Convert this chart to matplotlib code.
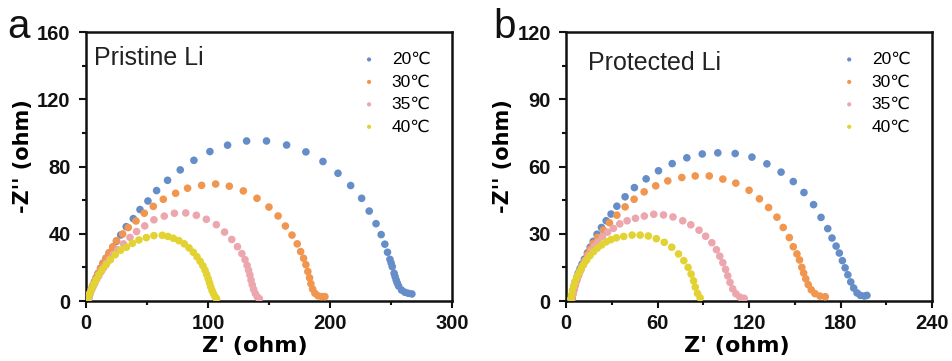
import matplotlib
matplotlib.use("Agg")
import matplotlib.pyplot as plt
from matplotlib.ticker import MultipleLocator

plt.rcParams["font.family"] = ["Liberation Sans", "DejaVu Sans"]

# Nyquist points, Z' (ohm) / -Z'' (ohm)
temps = ["20℃", "30℃", "35℃", "40℃"]
colors = ["#658dc8", "#f0964f", "#eca6ad", "#e2d232"]

# ---- Pristine Li ----
pristine_20_x = [1.5, 2, 2.5, 3.5, 4.5, 5.5, 7, 8.5, 10, 12, 14, 16.5, 19, 22, 25, 28.5,
                 33, 38.8, 44.3, 50.8, 57.9, 66.9, 77.3, 88.5, 101.6, 116.1, 131.7, 148,
                 164.5, 180.3, 194.3, 206.6, 217, 226, 232.2, 237.8, 242, 245, 247.2,
                 249.2, 250.2, 251.1, 252.6, 253.4, 254.3, 255.2, 256.3, 258.7, 261.5,
                 264.2, 267.2]
pristine_20_y = [0.5, 1.5, 3, 5, 7, 9, 11.5, 14, 16.5, 19.5, 22.5, 25.5, 28.5, 32, 35.5, 39.3,
                 44.2, 49, 54.4, 59.5, 65.7, 71.8, 78, 83.7, 88.9, 92.7, 95.2, 95.2,
                 92.8, 88.7, 83, 76, 68.7, 61.1, 53.5, 46, 39.5, 33.8, 29,
                 24.8, 22.6, 20.4, 16.5, 14.5, 12.5, 10.7, 8.9, 6.5, 5.2,
                 4.6, 4.2]

pristine_30_x = [1.5, 2, 2.5, 3.5, 4.5, 5.5, 7, 8.5, 10, 12, 14, 16.5, 19, 22, 25.1, 30.1,
                 34.7, 41, 47.8, 55.2, 63.4, 73.5, 83.3, 94.8, 106.3, 117.5, 129, 140.2,
                 150, 157.5, 163.5, 168.9, 173.2, 176, 178.4, 180.3, 181.9, 183.3, 184.4,
                 185.8, 187.7, 190.2, 193.2, 195.9]
pristine_30_y = [0.5, 1.5, 3, 5, 7, 9, 11.5, 14, 16.5, 19.5, 22.5, 25.5, 28.8, 32.2, 35.9, 39.9,
                 43.7, 47.6, 52.2, 56.3, 60.5, 64.1, 67.1, 68.8, 69.6, 68.3, 65.5, 61.1,
                 55.9, 50.6, 44.6, 39.2, 34, 29.4, 25.4, 21.6, 17.5, 13.8, 10.3,
                 7.1, 4.6, 3.1, 2.6, 2.6]

pristine_35_x = [1.5, 2, 2.5, 3.5, 4.5, 5.8, 7.2, 8.8, 10.5, 12.5, 14.5, 17, 19.5, 22.5, 26,
                 30.8, 36.1, 41.5, 48.2, 55.7, 64.2, 72.5, 81.8, 90.5, 98.7, 106.9, 113.6,
                 119.5, 124.2, 127.8, 130.4, 132.1, 133.3, 134.4, 135.3, 136.3, 137.4,
                 138.8, 140.4, 142.1]
pristine_35_y = [0.4, 1.2, 2.5, 4.5, 6.5, 8.5, 10.5, 12.8, 15, 17.5, 19.8, 22.5, 25, 27.8, 30.5,
                 34, 37.8, 41.3, 44.7, 48.3, 50.5, 52.2, 52.4, 51, 48.6, 45.4, 41,
                 36.6, 32.3, 28.2, 24.6, 21.2, 18.3, 15.5, 12.5, 9.7, 7,
                 4.5, 2.5, 1.4]

pristine_40_x = [1.3, 2, 3.2, 4.6, 6.3, 8.3, 10.6, 13.3, 16.5, 20, 24, 28.4, 33.1, 38, 43.4,
                 49.5, 55.7, 62.6, 67.2, 71.7, 76.2, 80.6, 84.5, 88, 91, 93.6, 95.8, 97.6,
                 99, 100.2, 101.3, 102.3, 103.4, 104.6, 105.8, 107]
pristine_40_y = [0.9, 2.4, 4.5, 7, 9.8, 12.6, 15.6, 18.6, 21.6, 24.5, 27.5, 30.2, 32, 34.3, 36.3,
                 37.7, 38.9, 39.1, 38.4, 37.3, 35.9, 34, 31.6, 29, 26.3, 23.6, 21, 18.4,
                 15.8, 13.3, 10.8, 8.4, 6.2, 4.2, 2.6, 1.4]

# ---- Protected Li ----
protected_20_x = [3.5, 4, 4.5, 5.2, 6, 7, 8, 9.2, 10.5, 12, 14, 15.8, 17.8, 20.3, 23.2, 26.3,
                  29.5, 33.3, 38.7, 44.8, 52.5, 60.6, 69.6, 79.2, 89.3, 99.5, 110.9, 121.9,
                  131.7, 141, 149, 156, 162.3, 167.2, 171.6, 174.4, 177.1, 179.2, 181.2,
                  183, 184.8, 186.7, 188.6, 190.8, 193, 195.6, 197.3]
protected_20_y = [1, 2.5, 4.5, 6.5, 8.5, 10.5, 12.5, 14.5, 16.5, 18.7, 21.5, 24, 26.6, 29.8, 32.8, 35.8,
                  38.8, 42.3, 46.5, 50.6, 54.5, 58.1, 61.3, 63.9, 65.6, 66.1, 65.8, 64.2,
                  61.2, 57.5, 53.3, 48.4, 43, 37.3, 32.3, 28.1, 24.5, 21.4, 18,
                  14.8, 11.7, 8.5, 5.8, 3.6, 2.5, 2.2, 2.5]

protected_30_x = [4, 4.5, 5.2, 6, 7, 8, 9.3, 10.7, 12.3, 14, 15.8, 17.8, 20.6, 24.5, 28.4,
                  33.3, 38.7, 44.6, 51.2, 58.8, 66.7, 75.9, 84.7, 93.9, 102.8, 111.3, 120,
                  126.8, 132.8, 138.3, 142.4, 146.4, 149, 151.4, 153.1, 154.6, 155.8, 157.2,
                  158.8, 160.8, 163.2, 166.5, 170]
protected_30_y = [1, 3, 5, 7, 9.2, 11.3, 13.5, 15.8, 18.2, 20.8, 23.2, 25.7, 28.4, 31.6, 34.9,
                  38.3, 42, 45.4, 48.7, 51.4, 53.6, 55.1, 55.8, 55.8, 54.4, 52.6, 49.4,
                  45.6, 41.7, 37.4, 32.8, 28.3, 24.2, 21, 18.3, 15, 12.5, 9.9,
                  7.3, 5, 3.3, 2.2, 1.9]

protected_35_x = [3.5, 4, 4.7, 5.4, 6.3, 7.3, 8.5, 9.8, 11.2, 12.8, 14.5, 16.4, 18.6, 21, 23.8,
                  27.2, 31, 35.2, 40, 45.5, 51.3, 57.5, 63.9, 70.1, 76.5, 81.8, 87.2, 91.5,
                  95.6, 98.6, 100.8, 102.8, 104.6, 106, 107.5, 109.3, 111.4, 114, 116.8]
protected_35_y = [0.8, 2.2, 4, 6, 8, 10, 12, 14, 16, 18, 20.2, 22.5, 24.6, 26.4, 28.7,
                  30.7, 32.4, 34.4, 35.8, 36.9, 37.9, 38.7, 38.4, 37.5, 35.8, 34, 31.6, 28.9,
                  26, 22.9, 20, 17.1, 14.1, 11.2, 8.3, 5.4, 3.2, 1.7, 1.2]

protected_40_x = [3.1, 3.6, 4.2, 5, 5.9, 7, 8.5, 10, 11.6, 13.5, 15.6, 18, 20.5, 23.3, 26.3,
                  29.5, 33, 37.8, 43.3, 48.6, 53.9, 59.2, 64.4, 69.3, 73.7, 77.2, 80, 82,
                  83.6, 84.7, 86.2, 87.9]
protected_40_y = [1, 2.8, 4.8, 6.8, 8.7, 10.6, 12.6, 14.6, 16.4, 18.3, 20.2, 22, 23.6, 25, 26.4,
                  27.4, 28.2, 28.8, 29.4, 29.4, 29, 27.8, 26.2, 24, 21, 18, 15, 12,
                  9, 6.2, 3.4, 1.4]

panels = [
    dict(letter="a", letter_x=0.008, title="Pristine Li", title_xy=(0.022, 0.903),
         xlab_x=0.462, xmax=300, xstep=100, ymax=160, ystep=40, light_top=False,
         series=[(pristine_20_x, pristine_20_y), (pristine_30_x, pristine_30_y),
                 (pristine_35_x, pristine_35_y), (pristine_40_x, pristine_40_y)]),
    dict(letter="b", letter_x=0.518, title="Protected Li", title_xy=(0.06, 0.885),
         xlab_x=0.467, xmax=240, xstep=60, ymax=120, ystep=30, light_top=True,
         series=[(protected_20_x, protected_20_y), (protected_30_x, protected_30_y),
                 (protected_35_x, protected_35_y), (protected_40_x, protected_40_y)]),
]

fig = plt.figure(figsize=(9.53, 3.61), dpi=100)
ax_left = [0.0902, 0.594]

for p, left in zip(panels, ax_left):
    ax = fig.add_axes([left, 0.1662, 0.384, 0.745])
    for (xs, ys), c, lab in zip(p["series"], colors, temps):
        ax.scatter(xs, ys, s=30, color=c, edgecolors="none", label=lab, zorder=3)

    ax.set_xlim(0, p["xmax"])
    ax.set_ylim(0, p["ymax"])
    ax.xaxis.set_major_locator(MultipleLocator(p["xstep"]))
    ax.xaxis.set_minor_locator(MultipleLocator(p["xstep"] / 2))
    ax.yaxis.set_major_locator(MultipleLocator(p["ystep"]))
    ax.yaxis.set_minor_locator(MultipleLocator(p["ystep"] / 2))
    ax.tick_params(which="both", direction="out", top=False, right=False,
                   width=1.5, colors="#111111")
    ax.tick_params(which="major", length=5, labelsize=14.5)
    ax.tick_params(axis="y", which="major", pad=6)
    ax.tick_params(axis="x", which="major", pad=4)
    ax.tick_params(which="minor", length=3)
    for lbl in ax.get_xticklabels() + ax.get_yticklabels():
        lbl.set_fontweight("bold")
    if p["light_top"]:
        # top label sits under the panel letter, printed lighter
        top = ax.get_yticklabels()[-1]
        top.set_fontweight("normal")
        top.set_fontsize(13)
    for sp in ax.spines.values():
        sp.set_linewidth(1.8)
        sp.set_color("#111111")

    ax.set_xlabel("Z' (ohm)", fontsize=16, fontweight="bold",
                  family=["DejaVu Sans"])
    ax.set_ylabel("-Z'' (ohm)", fontsize=15, fontweight="bold",
                  family=["DejaVu Sans"])
    ax.xaxis.set_label_coords(p["xlab_x"], -0.13)
    ax.yaxis.set_label_coords(-0.145, 0.539)

    ax.text(*p["title_xy"], p["title"], transform=ax.transAxes, fontsize=18,
            color="#222222", va="center", ha="left")
    ax.legend(loc="upper right", bbox_to_anchor=(0.97, 0.965), frameon=False,
              fontsize=12.5, markerscale=0.55, handletextpad=0.5, handlelength=1.6,
              labelspacing=0.42, borderaxespad=0.2)

    fig.text(p["letter_x"], 0.895, p["letter"], fontsize=29, color="#111111",
             ha="left", va="baseline")

fig.savefig("out.png", dpi=100)
